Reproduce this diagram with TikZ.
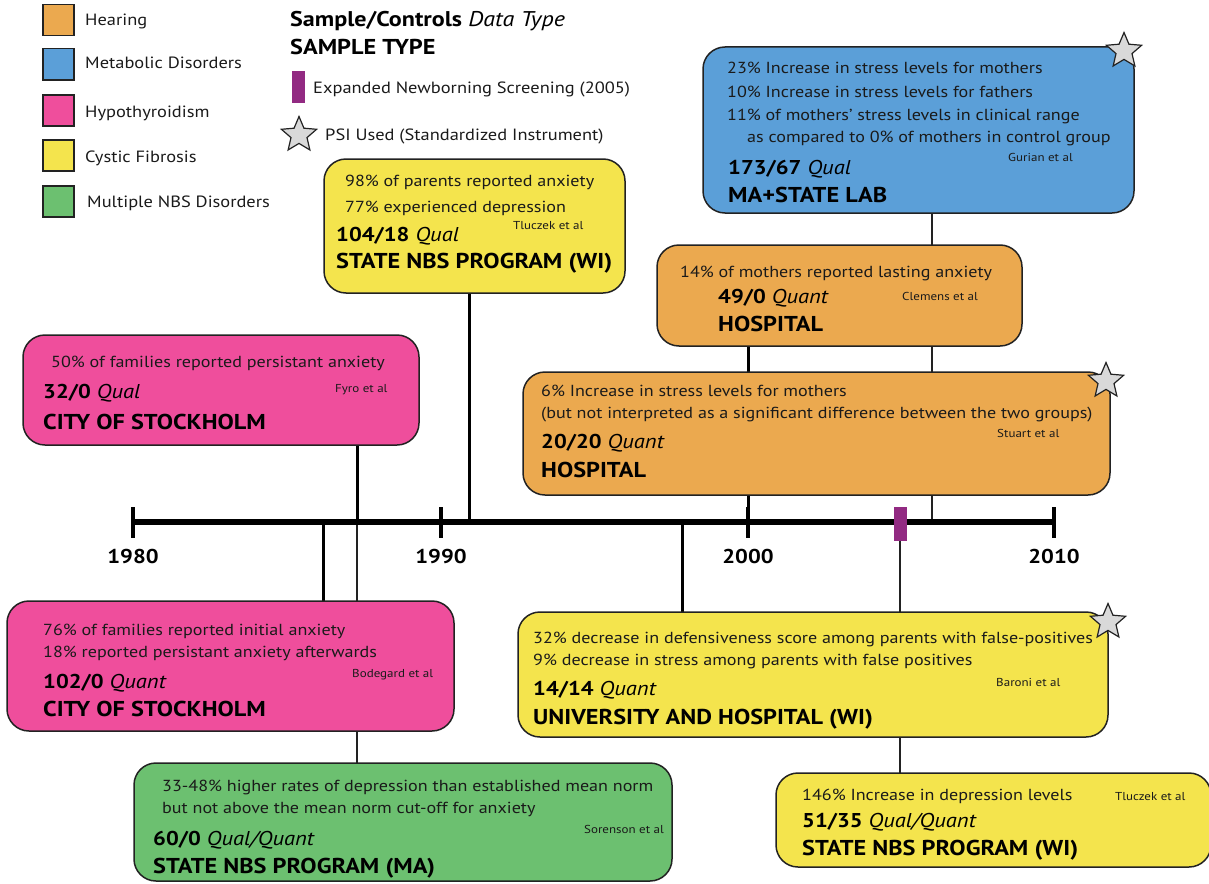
\documentclass[tikz,border=0pt]{standalone}
\usepackage{fontspec}
\setmainfont[FakeStretch=1.13]{PT Sans}
\usetikzlibrary{shapes.geometric}
\definecolor{hearing}{HTML}{EBA94F}
\definecolor{metabolic}{HTML}{5B9FD8}
\definecolor{thyroid}{HTML}{EF4E9C}
\definecolor{cf}{HTML}{F4E44D}
\definecolor{multi}{HTML}{6CC070}
\definecolor{nbs}{HTML}{922A82}
\definecolor{edge}{HTML}{222222}
\definecolor{ink}{HTML}{1A1A1A}
\definecolor{starfill}{HTML}{D9D9D9}
\pgfdeclarelayer{links}
\pgfsetlayers{links,main}
\newcommand{\fs}[1]{\fontsize{#1}{#1}\selectfont}

\begin{document}
\begin{tikzpicture}[x=1pt,y=-1pt,
  card/.style={draw=edge, line width=1.5pt, rounded corners=22pt, anchor=north west, inner sep=0pt, outer sep=0pt},
  body/.style={anchor=base west, inner sep=0pt, text=ink, font=\fs{16}},
  cite/.style={anchor=base west, inner sep=0pt, text=ink, font=\fs{11.5}},
  count/.style={anchor=base west, inner sep=0pt, text=black, font=\fs{20}},
  site/.style={anchor=base west, inner sep=0pt, text=black, font=\bfseries\fs{21.5}},
  swatch/.style={draw=edge, line width=1.5pt, minimum size=31pt, inner sep=0pt, anchor=north west},
  legendtxt/.style={anchor=base west, inner sep=0pt, text=ink, font=\fs{16.3}},
  psi/.style={star, star points=5, star point ratio=2.2, draw=edge, line width=1.2pt, fill=starfill, minimum size=37pt, inner sep=0pt},
  major/.style={line width=3pt, draw=black},
  minor/.style={line width=1.5pt, draw=edge},
  yearlbl/.style={font=\bfseries\fs{20}, anchor=base, inner sep=0pt},
]
\useasboundingbox (0,0) rectangle (1209,883);

% ---------- legend ----------
\node[swatch, fill=hearing]   (kHear)  at (42,4)   {};
\node[swatch, fill=metabolic] (kMeta)  at (42,48)  {};
\node[swatch, fill=thyroid]   (kThyr)  at (42,94)  {};
\node[swatch, fill=cf]        (kCF)    at (42,139) {};
\node[swatch, fill=multi]     (kMulti) at (42,185) {};
\node[legendtxt] (tHear)  at (85,26)  {Hearing};
\node[legendtxt] (tMeta)  at (85,69)  {Metabolic Disorders};
\node[legendtxt] (tThyr)  at (85,117) {Hypothyroidism};
\node[legendtxt] (tCF)    at (85,162) {Cystic Fibrosis};
\node[legendtxt] (tMulti) at (87,207) {Multiple NBS Disorders};

\node[count, font=\fs{21.3}] (hdr1) at (290,27) {\textbf{Sample/Controls} \textit{Data Type}};
\node[site]  (hdr2) at (290,55) {SAMPLE TYPE};
\node[fill=nbs, minimum width=13pt, minimum height=32pt, inner sep=0pt, anchor=north west] (barkey) at (292,71) {};
\node[legendtxt] (tbar) at (313,93) {Expanded Newborning Screening (2005)};
\node[psi] (starkey) at (299,135) {};
\node[legendtxt] (tstar) at (325,140) {PSI Used (Standardized Instrument)};

% ---------- study cards ----------
\node[card, fill=metabolic, minimum width=431pt, minimum height=166pt] (gurian) at (703,47) {};
\node[body] (g1) at (727,74)  {23\% Increase in stress levels for mothers};
\node[body] (g2) at (727,97)  {10\% Increase in stress levels for fathers};
\node[body] (g3) at (727,120) {11\% of mothers’ stress levels in clinical range};
\node[body] (g4) at (747,142) {as compared to 0\% of mothers in control group};
\node[cite] (gc) at (1008,161) {Gurian et al};
\node[count] (gn) at (728,174) {\textbf{173/67} \textit{Qual}};
\node[site]  (gs) at (728,202) {MA+STATE LAB};
\node[psi] (gpsi) at (1124,51) {};

\node[card, fill=cf, minimum width=301pt, minimum height=134pt] (tluczekA) at (324,159) {};
\node[body] (ta1) at (345,186) {98\% of parents reported anxiety};
\node[body] (ta2) at (345,212) {77\% experienced depression};
\node[cite] (tac) at (513,229) {Tluczek et al};
\node[count] (tan) at (336,241) {\textbf{104/18} \textit{Qual}};
\node[site]  (tas) at (336,268) {STATE NBS PROGRAM (WI)};

\node[card, fill=hearing, minimum width=365pt, minimum height=101pt] (clemens) at (657,245) {};
\node[body] (c1) at (680,277) {14\% of mothers reported lasting anxiety};
\node[count] (cn) at (718,303) {\textbf{49/0} \textit{Quant}};
\node[cite] (cc) at (902,300) {Clemens et al};
\node[site] (cs) at (718,331) {HOSPITAL};

\node[card, fill=hearing, minimum width=587pt, minimum height=123pt] (stuart) at (523,372) {};
\node[body] (s1) at (541,396) {6\% Increase in stress levels for mothers};
\node[body] (s2) at (541,418) {(but not interpreted as a significant difference between the two groups)};
\node[count] (sn) at (541,448) {\textbf{20/20} \textit{Quant}};
\node[cite] (sc) at (997,437) {Stuart et al};
\node[site] (ss) at (541,477) {HOSPITAL};
\node[psi] (spsi) at (1106,381) {};

\node[card, fill=thyroid, minimum width=396pt, minimum height=110pt] (fyro) at (23,335) {};
\node[body] (f1) at (51,367) {50\% of families reported persistant anxiety};
\node[count] (fn) at (43,398) {\textbf{32/0} \textit{Qual}};
\node[cite] (fc) at (335,392) {Fyro et al};
\node[site] (fs) at (43,429) {CITY OF STOCKHOLM};

\node[card, fill=thyroid, minimum width=447pt, minimum height=130pt] (bodegard) at (7,601) {};
\node[body] (b1) at (43,635) {76\% of families reported initial anxiety};
\node[body] (b2) at (43,657) {18\% reported persistant anxiety afterwards};
\node[cite] (bc) at (352,677) {Bodegard et al};
\node[count] (bn) at (43,688) {\textbf{102/0} \textit{Quant}};
\node[site] (bs) at (43,716) {CITY OF STOCKHOLM};

\node[card, fill=cf, minimum width=590pt, minimum height=125pt] (baroni) at (518,612) {};
\node[body] (r1) at (533,643) {32\% decrease in defensiveness score among parents with false-positives};
\node[body] (r2) at (533,665) {9\% decrease in stress among parents with false positives};
\node[count] (rn) at (533,695) {\textbf{14/14} \textit{Quant}};
\node[cite] (rc) at (996,686) {Baroni et al};
\node[site] (rs) at (533,724) {UNIVERSITY AND HOSPITAL (WI)};
\node[psi] (rpsi) at (1108,622) {};

\node[card, fill=multi, minimum width=538pt, minimum height=118pt] (sorenson) at (134,763) {};
\node[body] (o1) at (162,791) {33-48\% higher rates of depression than established mean norm};
\node[body] (o2) at (162,813) {but not above the mean norm cut-off for anxiety};
\node[cite] (oc) at (584,833) {Sorenson et al};
\node[count] (on) at (153,845) {\textbf{60/0} \textit{Qual/Quant}};
\node[site] (os) at (153,873) {STATE NBS PROGRAM (MA)};

\node[card, fill=cf, minimum width=435pt, minimum height=94pt] (tluczekB) at (776,773) {};
\node[body] (tb1) at (802,800) {146\% Increase in depression levels};
\node[cite] (tbc) at (1115,800) {Tluczek et al};
\node[count] (tbn) at (802,827) {\textbf{51/35} \textit{Qual/Quant}};
\node[site] (tbs) at (802,855) {STATE NBS PROGRAM (WI)};

% ---------- timeline ----------
\coordinate (y1980) at (133,522);
\coordinate (y1990) at (441,522);
\coordinate (y2000) at (748,522);
\coordinate (y2010) at (1054,522);
\coordinate (a323) at (323,522);
\coordinate (a357) at (357,522);
\coordinate (a469) at (469,522);
\coordinate (a682) at (682,522);
\coordinate (a932) at (932,522);

\draw[line width=6pt] (y1980) -- (y2010);
\foreach \t in {y1980,y1990,y2000,y2010}
  \draw[line width=4pt] ([yshift=15pt]\t) -- ([yshift=-16pt]\t);
\node[yearlbl] (l1980) at (133,563) {1980};
\node[yearlbl] (l1990) at (441,563) {1990};
\node[yearlbl] (l2000) at (748,563) {2000};
\node[yearlbl] (l2010) at (1054,563) {2010};
\node[fill=nbs, minimum width=13pt, minimum height=34pt, inner sep=0pt] (nbs2005) at (900,524) {};

% ---------- connectors ----------
\begin{pgfonlayer}{links}
\draw[major] (fyro.south -| a357) -- (a357);
\draw[major] (tluczekA.south -| a469) -- (a469);
\draw[major] (clemens.south -| y2000) -- (y2000);
\draw[minor] (gurian.south -| a932) -- (a932);
\draw[major] (a323) -- (bodegard.north -| a323);
\draw[minor] (a357) -- (sorenson.north -| a357);
\draw[major] (a682) -- (baroni.north -| a682);
\draw[minor] (nbs2005.center) -- (tluczekB.north -| nbs2005);
\end{pgfonlayer}
\end{tikzpicture}
\end{document}
